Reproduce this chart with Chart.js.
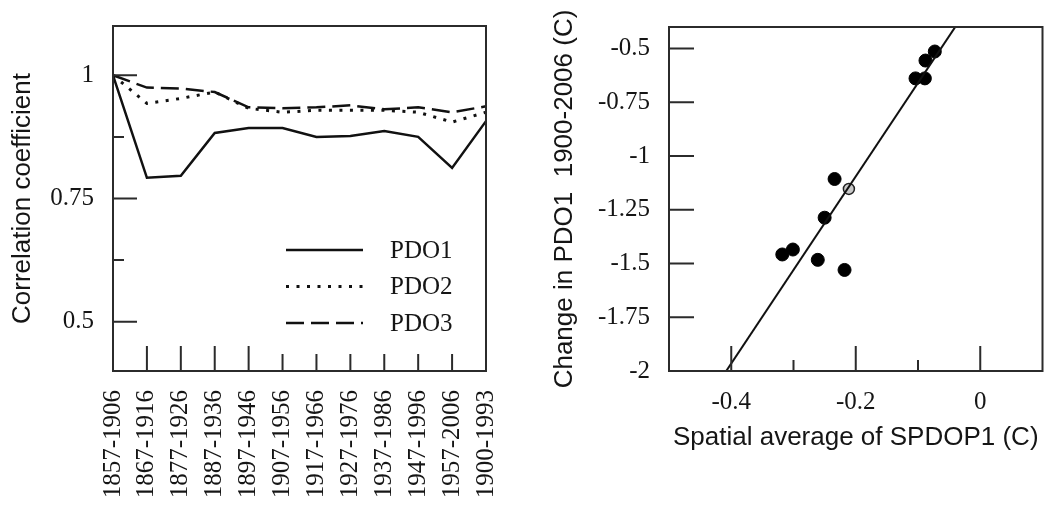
<!DOCTYPE html>
<html>
<head>
<meta charset="utf-8">
<script src="https://cdn.jsdelivr.net/npm/chart.js@4.4.0/dist/chart.umd.min.js"></script>
<style>
  html, body { margin: 0; padding: 0; background: #fff; }
  #wrap { position: relative; width: 1050px; height: 512px; }
  #left { position: absolute; left: 0; top: 0; }
  #right { position: absolute; left: 520px; top: 0; }
</style>
</head>
<body>
<div id="wrap">
  <canvas id="left" width="520" height="512" style="width:520px;height:512px"></canvas>
  <canvas id="right" width="530" height="512" style="width:530px;height:512px"></canvas>
</div>
<script>
'use strict';

// Left panel data
const periods = ['1857-1906', '1867-1916', '1877-1926', '1887-1936', '1897-1946', '1907-1956',
  '1917-1966', '1927-1976', '1937-1986', '1947-1996', '1957-2006', '1900-1993'];
const pdo1 = [1.0, 0.792, 0.796, 0.883, 0.893, 0.893, 0.875, 0.877, 0.887, 0.875, 0.812, 0.907];
const pdo2 = [1.0, 0.943, 0.953, 0.966, 0.933, 0.925, 0.929, 0.929, 0.929, 0.925, 0.905, 0.925];
const pdo3 = [1.0, 0.975, 0.973, 0.966, 0.935, 0.933, 0.935, 0.939, 0.931, 0.935, 0.925, 0.937];
const leftYTicks = [0.5, 0.625, 0.75, 0.875, 1];
const leftYLabels = [0.5, 0.75, 1];

// Right panel data
const spdopX = [-0.073, -0.088, -0.104, -0.089, -0.234, -0.250, -0.318, -0.301, -0.261, -0.218];
const changeY = [-0.514, -0.556, -0.639, -0.639, -1.107, -1.287, -1.458, -1.435, -1.483, -1.530];
const openX = [-0.211];
const openY = [-1.153];
const fitSlope = 4.35;
const fitIntercept = -0.225;
const fitX = [-0.45, 0.0];
const rightXTicks = [-0.4, -0.3, -0.2, -0.1, 0];
const rightXLabels = [-0.4, -0.2, 0];
const rightYTicks = [-2, -1.875, -1.75, -1.625, -1.5, -1.375, -1.25, -1.125, -1, -0.875, -0.75, -0.625, -0.5];
const rightYLabels = [-2, -1.75, -1.5, -1.25, -1, -0.75, -0.5];

const ink = '#151515';
const serif = 'Liberation Serif';
const sans = 'Liberation Sans';

// fixed scale box, no extra label padding pushed into the chart area
function fixSize(w, h) {
  return function (s) {
    if (w) s.width = w;
    if (h) s.height = h;
    s.paddingLeft = 0;
    s.paddingRight = 0;
    s.paddingTop = 0;
    s.paddingBottom = 0;
  };
}

// box round the plot and ticks pointing inward
function makeFrame(yLen, xLen) {
  return {
    id: 'frame',
    afterDraw(chart) {
      const { ctx, chartArea: a } = chart;
      const xs = chart.scales.x, ys = chart.scales.y;
      ctx.save();
      ctx.strokeStyle = '#2b2b2b';
      ctx.lineWidth = 2;
      ctx.strokeRect(a.left, a.top, a.right - a.left, a.bottom - a.top);
      ctx.beginPath();
      ys.ticks.forEach(function (t, i) {
        const y = ys.getPixelForValue(t.value);
        ctx.moveTo(a.left, y);
        ctx.lineTo(a.left + yLen(t.value, i), y);
      });
      xs.ticks.forEach(function (t, i) {
        const x = xs.getPixelForTick(i);
        ctx.moveTo(x, a.bottom);
        ctx.lineTo(x, a.bottom - xLen(t.value, i));
      });
      ctx.stroke();
      ctx.restore();
    }
  };
}

const legendBox = {
  id: 'pdoLegend',
  afterDatasetsDraw(chart) {
    const { ctx, chartArea: a } = chart;
    chart.data.datasets.forEach(function (ds, i) {
      const y = a.top + 224 + i * 36.5;
      ctx.save();
      ctx.strokeStyle = ds.borderColor;
      ctx.lineWidth = ds.borderWidth;
      ctx.setLineDash(ds.borderDash || []);
      ctx.beginPath();
      ctx.moveTo(a.left + 173, y);
      ctx.lineTo(a.left + 250, y);
      ctx.stroke();
      ctx.setLineDash([]);
      ctx.fillStyle = ink;
      ctx.font = '25px "' + serif + '"';
      ctx.textBaseline = 'middle';
      ctx.fillText(ds.label, a.left + 277, y + 1);
      ctx.restore();
    });
  }
};

// Left chart
// --------------------------------------------------------------------
new Chart(document.getElementById('left'), {
  type: 'line',
  data: {
    labels: periods,
    datasets: [
      { label: 'PDO1', data: pdo1, borderColor: '#111', borderWidth: 2.5, pointRadius: 0, tension: 0 },
      { label: 'PDO2', data: pdo2, borderColor: '#111', borderWidth: 3, borderDash: [3, 7.5], pointRadius: 0, tension: 0 },
      { label: 'PDO3', data: pdo3, borderColor: '#111', borderWidth: 2.5, borderDash: [18, 7], pointRadius: 0, tension: 0 }
    ]
  },
  options: {
    responsive: false,
    animation: false,
    layout: { padding: { top: 26, right: 34, left: 0, bottom: 0 } },
    plugins: { legend: { display: false }, tooltip: { enabled: false } },
    scales: {
      x: {
        type: 'category',
        offset: false,
        grid: { display: false, drawTicks: false },
        border: { display: false },
        ticks: {
          autoSkip: false,
          minRotation: 90,
          maxRotation: 90,
          padding: 19,
          color: ink,
          font: { family: serif, size: 25 }
        },
        afterFit: fixSize(0, 141)
      },
      y: {
        min: 0.4,
        max: 1.1,
        afterBuildTicks: function (s) { s.ticks = leftYTicks.map(v => ({ value: v })); },
        grid: { display: false, drawTicks: false },
        border: { display: false },
        ticks: {
          padding: 19,
          color: ink,
          font: { family: serif, size: 25 },
          callback: v => leftYLabels.includes(v) ? String(v) : ''
        },
        title: {
          display: true,
          text: 'Correlation coefficient',
          color: ink,
          font: { family: sans, size: 26 },
          padding: { top: 7, bottom: 0 }
        },
        afterFit: fixSize(113, 0)
      }
    }
  },
  plugins: [
    makeFrame(
      v => leftYLabels.includes(v) ? 24 : 11,
      (v, i) => (i === 0 || i === periods.length - 1) ? 0 : (i <= 4 ? 25 : 17)
    ),
    legendBox
  ]
});

// Right chart
// --------------------------------------------------------------------
new Chart(document.getElementById('right'), {
  type: 'scatter',
  data: {
    datasets: [
      {
        data: fitX.map(x => ({ x: x, y: fitIntercept + fitSlope * x })),
        showLine: true,
        borderColor: '#111',
        borderWidth: 2,
        pointRadius: 0
      },
      {
        data: spdopX.map((x, i) => ({ x: x, y: changeY[i] })),
        backgroundColor: '#000',
        borderColor: '#000',
        pointRadius: 6.5
      },
      {
        data: openX.map((x, i) => ({ x: x, y: openY[i] })),
        backgroundColor: '#c8c8c8',
        borderColor: '#222',
        borderWidth: 1.5,
        pointRadius: 5.5
      }
    ]
  },
  options: {
    responsive: false,
    animation: false,
    layout: { padding: { top: 27, right: 7, left: 0, bottom: 0 } },
    plugins: { legend: { display: false }, tooltip: { enabled: false } },
    scales: {
      x: {
        type: 'linear',
        min: -0.5,
        max: 0.1,
        afterBuildTicks: function (s) { s.ticks = rightXTicks.map(v => ({ value: v })); },
        grid: { display: false, drawTicks: false },
        border: { display: false },
        ticks: {
          padding: 16,
          color: ink,
          font: { family: serif, size: 25 },
          callback: v => rightXLabels.includes(v) ? String(v) : ''
        },
        title: {
          display: true,
          text: 'Spatial average of SPDOP1 (C)',
          color: ink,
          font: { family: sans, size: 26 },
          padding: { top: 0, bottom: 59 }
        },
        afterFit: fixSize(0, 141)
      },
      y: {
        min: -2,
        max: -0.4,
        afterBuildTicks: function (s) { s.ticks = rightYTicks.map(v => ({ value: v })); },
        grid: { display: false, drawTicks: false },
        border: { display: false },
        ticks: {
          padding: 19,
          color: ink,
          font: { family: serif, size: 25 },
          callback: v => rightYLabels.includes(v) ? String(v) : ''
        },
        title: {
          display: true,
          text: 'Change in PDO1  1900-2006 (C)',
          color: ink,
          font: { family: sans, size: 26 },
          padding: { top: 29, bottom: 0 }
        },
        afterFit: fixSize(149, 0)
      }
    }
  },
  plugins: [
    makeFrame(
      v => rightYLabels.includes(v) ? 25 : 10,
      v => rightXLabels.includes(v) ? 25 : 11
    )
  ]
});
</script>
</body>
</html>
